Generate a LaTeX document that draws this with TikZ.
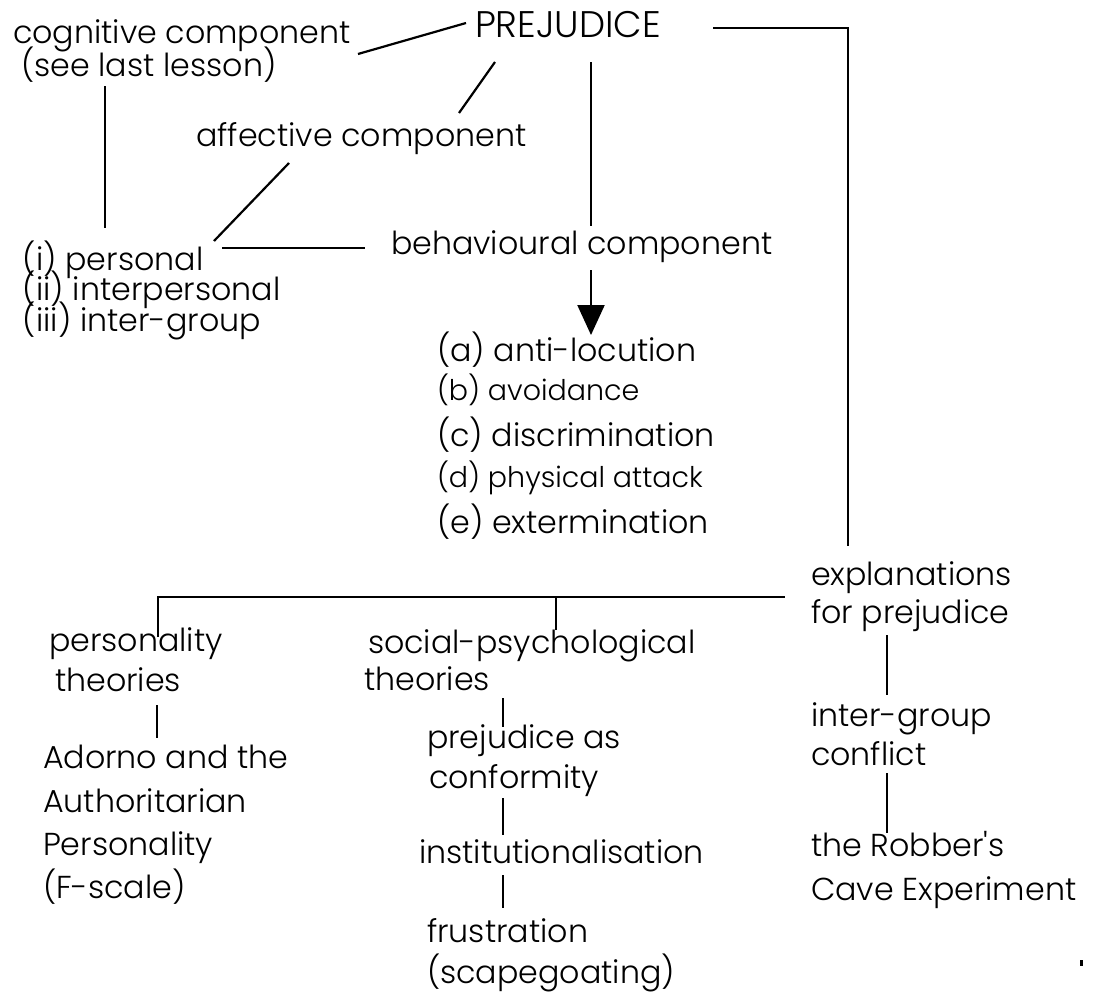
\documentclass[tikz,border=0pt]{standalone}
\usepackage{fontspec}
\setmainfont{Poppins}[UprightFont=* Light]
\usetikzlibrary{calc,arrows.meta}
\tikzset{
  lbl/.style={anchor=base west,inner sep=0pt,outer sep=0pt,font=\fontsize{31.7}{36}\selectfont},
  lbls/.style={lbl,font=\fontsize{28.5}{32}\selectfont},
  big/.style={lbl,font=\fontsize{37}{40}\selectfont},
  conn/.style={line width=2.2pt},
  thin/.style={line width=1.8pt},
  arr/.style={conn,-{Triangle[length=30pt,width=27pt]}}
}
\begin{document}
\begin{tikzpicture}[x=1pt,y=-1pt]
\useasboundingbox (0,0) rectangle (1097,1001);
% top part
\node[big] (prej) at (475,37) {PREJUDICE};
\node[lbl] (cog) at (13,43) {cognitive component};
\node[lbl] (cog2) at (21,76) {(see last lesson)};
\node[lbl] (aff) at (196,146) {affective component};
\node[lbl] (beh) at (391,254) {behavioural component};
\node[lbl] (pers) at (23,270) {(i) personal};
\node[lbl] (inter) at (23,300) {(ii) interpersonal};
\node[lbl] (grp) at (23,331) {(iii) inter-group};
\node[lbl] (a) at (437,361) {(a) anti-locution};
\node[lbls] (b) at (437,400) {(b) avoidance};
\node[lbl] (c) at (437,446) {(c) discrimination};
\node[lbls] (d) at (437,487) {(d) physical attack};
\node[lbl] (e) at (437,533) {(e) extermination};
% bottom part
\node[lbl] (expl) at (811,585) {explanations};
\node[lbl] (forp) at (811,623) {for prejudice};
\node[lbl] (ig) at (811,726) {inter-group};
\node[lbl] (confl) at (811,765) {conflict};
\node[lbl] (rob) at (811,856) {the Robber\textquotesingle s};
\node[lbl] (cave) at (811,900) {Cave Experiment};
\node[lbl] (perst) at (49,651) {personality};
\node[lbl] (theo1) at (55,691) {theories};
\node[lbl] (ador) at (43,768) {Adorno and the};
\node[lbl] (auth) at (43,812) {Authoritarian};
\node[lbl] (persn) at (43,855) {Personality};
\node[lbl] (fsc) at (43,898) {(F-scale)};
\node[lbl] (soc) at (368,653) {social-psychological};
\node[lbl] (theo2) at (364,690) {theories};
\node[lbl] (prejas) at (427,748) {prejudice as};
\node[lbl] (conf) at (429,788) {conformity};
\node[lbl] (inst) at (419,863) {institutionalisation};
\node[lbl] (frus) at (427,942) {frustration};
\node[lbl] (scape) at (427,983) {(scapegoating)};
% connectors
\draw[conn] ($(cog.base west)+(345,11)$) -- ($(prej.base west)+(-9,-14)$);
\draw[conn] ($(prej.base west)+(20,25)$) -- ($(aff.base west)+(263,-33)$);
\draw[conn] ($(cog2.base west)+(84,10)$) -- ($(pers.base west)+(82,-42)$);
\draw[conn] ($(aff.base west)+(93,17)$) -- ($(pers.base west)+(191,-29)$);
\draw[conn] ($(pers.base west)+(199,-22)$) -- ($(beh.base west)+(-26,-6)$);
\draw[conn] ($(prej.base west)+(116,25)$) -- ($(beh.base west)+(200,-28)$);
\draw[arr] ($(beh.base west)+(200,16)$) -- ($(a.base west)+(154,-26)$);
\draw[conn] ($(prej.base west)+(238,-9)$) -| ($(expl.base west)+(37,-39)$);
\coordinate (bar) at ($(expl.base west)+(-26,12)$);
\draw[conn] ($(perst.base west)+(109,-14)$) |- (bar);
\draw[thin] ($(soc.base west)+(188,-23)$) |- (bar);
\draw[thin] ($(theo1.base west)+(102,14)$) -- ($(ador.base west)+(114,-30)$);
\draw[thin] ($(theo2.base west)+(139,8)$) -- ($(prejas.base west)+(76,-21)$);
\draw[thin] ($(conf.base west)+(74,10)$) -- ($(inst.base west)+(84,-28)$);
\draw[thin] ($(inst.base west)+(84,12)$) -- ($(frus.base west)+(76,-34)$);
\draw[thin] ($(forp.base west)+(76,12)$) -- ($(ig.base west)+(76,-31)$);
\draw[thin] ($(confl.base west)+(76,8)$) -- ($(rob.base west)+(76,-23)$);
\fill (1080,960) rectangle (1082.5,966);
\end{tikzpicture}
\end{document}
